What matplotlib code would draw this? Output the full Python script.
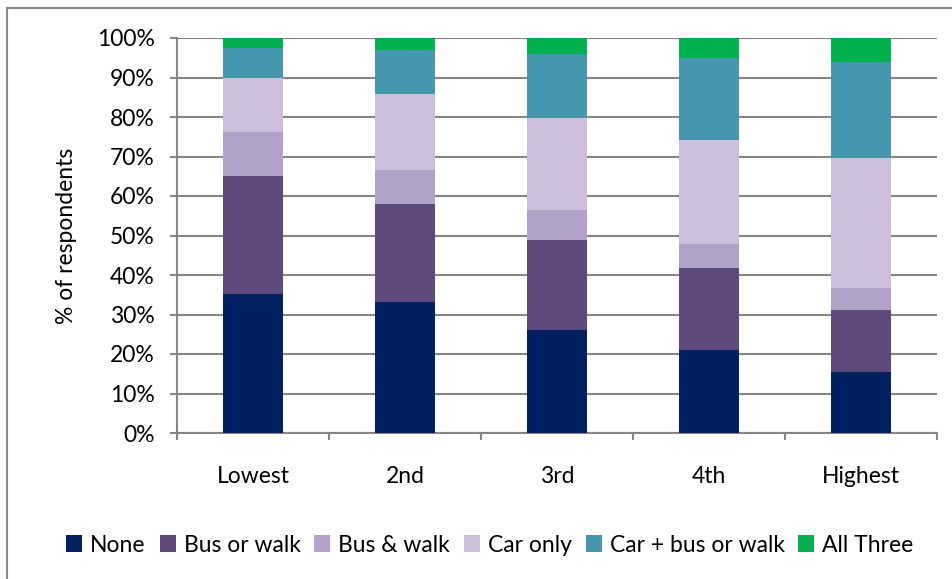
import matplotlib
matplotlib.use("Agg")
import matplotlib.pyplot as plt
from matplotlib.lines import Line2D
from matplotlib.patches import Patch
import numpy as np

categories = ["Lowest", "2nd", "3rd", "4th", "Highest"]
series_names = ["None", "Bus or walk", "Bus & walk", "Car only", "Car + bus or walk", "All Three"]
none_vals = [35.2, 33.1, 26.1, 21.1, 15.5]
bus_or_walk = [29.8, 24.9, 22.7, 20.6, 15.7]
bus_and_walk = [11.2, 8.5, 7.7, 6.2, 5.6]
car_only = [13.6, 19.3, 23.2, 26.3, 32.8]
car_bus_walk = [7.7, 11.2, 16.2, 20.7, 24.2]
all_three = [2.5, 3.0, 4.1, 5.1, 6.2]
colors = ["#002060", "#5E4A7A", "#B3A2C7", "#CCC0DA", "#4596AE", "#00B050"]

plt.rcParams['font.family'] = ['Lato', 'DejaVu Sans']
FS = 16.5

fig = plt.figure(figsize=(9.53, 5.79), dpi=100)
ax = fig.add_axes([177/953, 1 - 433/579, (937-177)/953, (433-38)/579])

data = [none_vals, bus_or_walk, bus_and_walk, car_only, car_bus_walk, all_three]
x = np.arange(len(categories))
bottom = np.zeros(len(categories))
for name, vals, c in zip(series_names, data, colors):
    ax.bar(x, vals, 0.39, bottom=bottom, color=c, label=name, zorder=3)
    bottom += np.array(vals)

ax.set_xlim(-0.5, len(categories) - 0.5)
ax.set_ylim(0, 100)
ax.set_yticks(np.arange(0, 101, 10))
ax.set_yticklabels([f"{v}%" for v in range(0, 101, 10)], fontsize=FS)
ax.yaxis.grid(True, color="#868686", linewidth=1.5, zorder=0)
ax.set_axisbelow(True)

ax.set_xticks(x)
ax.set_xticklabels(categories, fontsize=FS)
ax.tick_params(axis='x', which='major', length=0, pad=24)
ax.set_xticks(np.arange(-0.5, len(categories), 1), minor=True)
ax.tick_params(axis='x', which='minor', length=5, width=1.5, color="#868686")
ax.tick_params(axis='y', length=5, width=1.5, color="#868686", pad=11)

for s in ["top", "right"]:
    ax.spines[s].set_visible(False)
for s in ["left", "bottom"]:
    ax.spines[s].set_color("#868686")
    ax.spines[s].set_linewidth(1.5)

ax.set_ylabel("% of respondents", fontsize=FS, labelpad=14)

handles = [Patch(facecolor=c, edgecolor='none') for c in colors]
fig.legend(handles, series_names, loc='center', bbox_to_anchor=(490/953, 1 - 545/579),
           ncol=6, frameon=False, fontsize=FS, handlelength=0.7, handleheight=0.7,
           handletextpad=0.35, columnspacing=0.6)

# chart border (top and left visible)
fig.add_artist(Line2D([7/953, 1], [1 - 8/579, 1 - 8/579], color="#868686", linewidth=1.5, transform=fig.transFigure))
fig.add_artist(Line2D([7/953, 7/953], [0, 1 - 8/579], color="#868686", linewidth=1.5, transform=fig.transFigure))

fig.savefig("out.png", dpi=100)
